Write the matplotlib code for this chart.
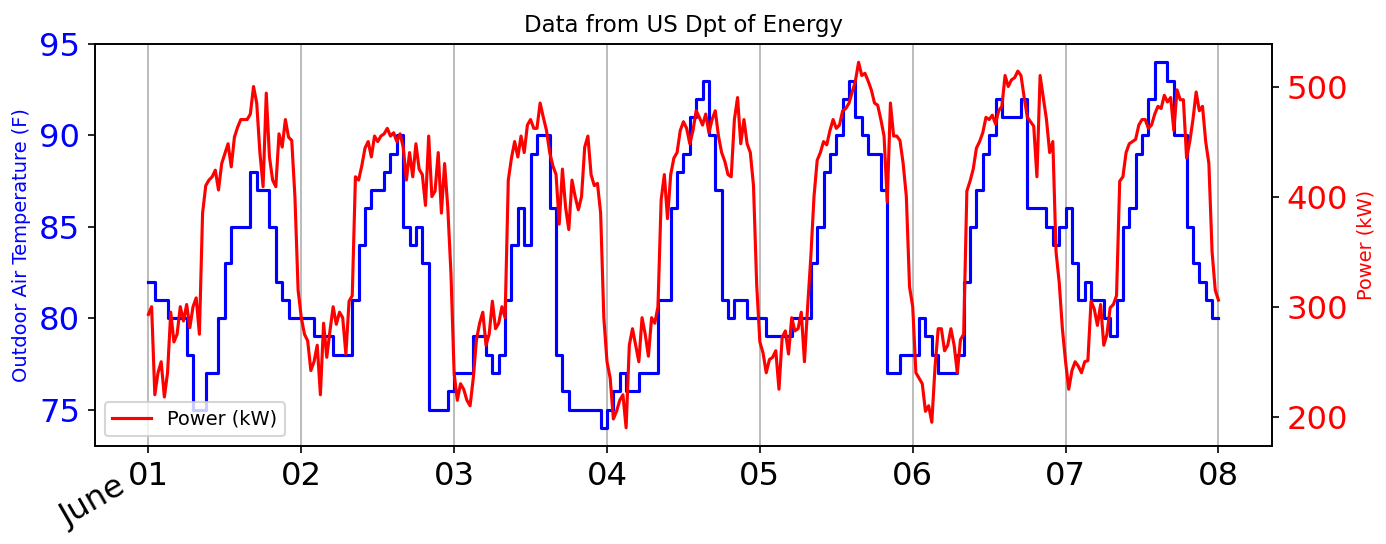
import numpy as np
import pandas as pd
import matplotlib
matplotlib.use("Agg")
import matplotlib.pyplot as plt
import matplotlib.dates as mdates

# hourly outdoor air temperature (F), June 1 -> June 7, plus the final reading at June 8 00:00
temp_day1 = [82, 81, 81, 80, 80, 80, 78, 75, 75, 77, 77, 80, 83, 85, 85, 85, 88, 87, 87, 85, 82, 81, 80, 80]
temp_day2 = [80, 80, 79, 79, 79, 78, 78, 78, 81, 84, 86, 87, 87, 88, 89, 90, 85, 84, 85, 83, 75, 75, 75, 76]
temp_day3 = [77, 77, 77, 79, 79, 78, 77, 78, 81, 84, 86, 84, 89, 90, 90, 86, 78, 76, 75, 75, 75, 75, 75, 74]
temp_day4 = [75, 76, 77, 76, 76, 77, 77, 77, 81, 81, 86, 88, 89, 91, 92, 93, 90, 87, 81, 80, 81, 81, 80, 80]
temp_day5 = [80, 79, 79, 79, 79, 80, 80, 80, 83, 85, 88, 89, 90, 92, 93, 91, 90, 89, 89, 87, 77, 77, 78, 78]
temp_day6 = [78, 80, 79, 78, 77, 77, 77, 78, 82, 85, 87, 89, 90, 92, 91, 91, 91, 92, 86, 86, 86, 85, 84, 85]
temp_day7 = [86, 83, 81, 82, 81, 81, 80, 79, 81, 85, 86, 89, 90, 92, 94, 94, 93, 90, 90, 85, 83, 82, 81, 80]
temp_last = [80]

# half-hourly building power (kW)
power_day1 = [293, 300, 220, 240, 250, 218, 240, 295, 268, 275, 300, 287, 302, 281, 300, 308,
              275, 385, 410, 415, 418, 424, 406, 430, 439, 448, 427, 454, 463, 470, 470, 470,
              475, 500, 485, 440, 409, 494, 436, 415, 409, 457, 445, 470, 454, 451, 400, 315]
power_day2 = [290, 275, 269, 242, 250, 265, 220, 285, 254, 278, 300, 284, 295, 290, 257, 305,
              310, 418, 415, 428, 444, 450, 436, 455, 450, 455, 457, 462, 455, 458, 450, 457,
              445, 415, 440, 418, 448, 425, 420, 392, 455, 400, 405, 440, 385, 430, 390, 330]
power_day3 = [239, 215, 230, 225, 215, 210, 235, 270, 285, 295, 265, 275, 305, 280, 285, 300,
              290, 415, 435, 450, 436, 455, 440, 465, 470, 462, 462, 485, 472, 460, 440, 428,
              420, 375, 425, 390, 370, 415, 400, 388, 400, 445, 455, 420, 410, 412, 385, 290]
power_day4 = [250, 235, 198, 205, 215, 220, 190, 265, 280, 265, 250, 290, 275, 255, 290, 285,
              300, 397, 420, 380, 420, 435, 440, 460, 468, 462, 448, 460, 478, 472, 465, 475,
              458, 470, 478, 455, 440, 432, 420, 418, 470, 490, 448, 470, 448, 440, 410, 320]
power_day5 = [268, 258, 240, 252, 254, 260, 225, 272, 278, 257, 290, 278, 280, 295, 250, 300,
              345, 400, 433, 440, 450, 447, 460, 470, 462, 465, 478, 480, 485, 495, 505, 522,
              510, 512, 505, 497, 485, 483, 470, 455, 395, 485, 455, 455, 451, 430, 400, 318]
power_day6 = [300, 240, 235, 230, 205, 210, 195, 245, 280, 280, 260, 265, 280, 265, 240, 270,
              275, 405, 414, 425, 444, 450, 458, 472, 470, 474, 466, 478, 482, 510, 500, 506,
              508, 514, 510, 490, 472, 468, 464, 418, 510, 490, 470, 440, 450, 350, 322, 280]
power_day7 = [250, 225, 242, 250, 246, 240, 250, 251, 305, 298, 283, 302, 265, 275, 299, 302,
              310, 414, 418, 440, 448, 450, 452, 465, 470, 470, 462, 465, 475, 482, 480, 492,
              486, 490, 460, 497, 488, 488, 435, 450, 470, 495, 478, 482, 450, 430, 350, 315]
power_last = [306]

temp = temp_day1 + temp_day2 + temp_day3 + temp_day4 + temp_day5 + temp_day6 + temp_day7 + temp_last
power = power_day1 + power_day2 + power_day3 + power_day4 + power_day5 + power_day6 + power_day7 + power_last

t_temp = pd.date_range("2016-06-01 00:00", periods=len(temp), freq="h")
t_power = pd.date_range("2016-06-01 00:00", periods=len(power), freq="30min")

fig = plt.figure(figsize=(9.24, 3.627), dpi=150)
ax = fig.add_axes([0.0685, 0.18, 0.8492, 0.739])
ax.plot(t_temp, temp, color="blue", drawstyle="steps-post", lw=1.5)
ax.set_ylabel("Outdoor Air Temperature (F)", color="blue", fontsize=9.3)
ax.tick_params(axis="y", labelcolor="blue", labelsize=15.5)
ax.set_yticks([75, 80, 85, 90, 95])
ax.grid(axis="x")

ax.xaxis.set_major_locator(mdates.DayLocator())
ax.xaxis.set_major_formatter(mdates.DateFormatter("%d"))
ax.tick_params(axis="x", which="major", labelsize=15.5)

# month name under the first day, tilted
ax.annotate("June", xy=(t_temp[0], 0), xycoords=("data", "axes fraction"),
            xytext=(-8, -12), textcoords="offset points",
            rotation=30, ha="right", va="top", fontsize=15.5)

ax2 = ax.twinx()
ax2.plot(t_power, power, color="red", lw=1.5, label="Power (kW)")
ax2.set_ylabel("Power (kW)", color="red", fontsize=9.3)
ax2.tick_params(axis="y", labelcolor="red", labelsize=15.5)
ax2.set_yticks([200, 300, 400, 500])
ax2.legend(loc="lower left", fontsize=9.3)

ax.set_title("Data from US Dpt of Energy", fontsize=11)

fig.savefig("out.png", dpi=150)
